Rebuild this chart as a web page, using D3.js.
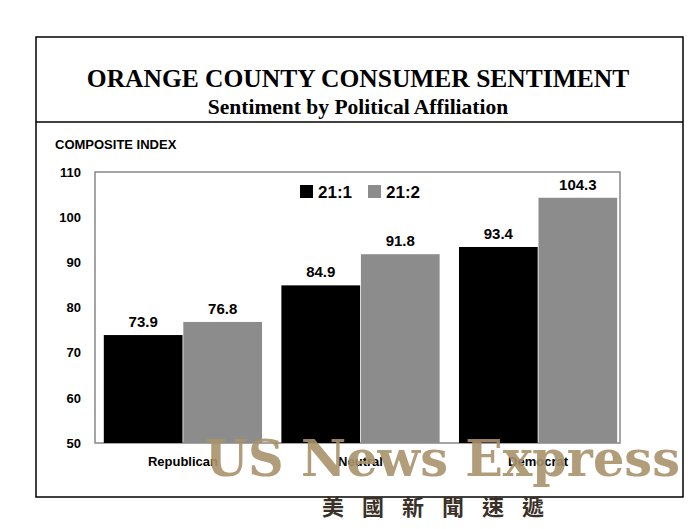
<!DOCTYPE html>
<html><head><meta charset="utf-8">
<script src="https://cdn.jsdelivr.net/npm/d3@7"></script>
<style>body{margin:0;background:#fff}</style>
</head><body>
<script>
var categories = ["Republican", "Neutral", "Democrat"];
var seriesNames = ["21:1", "21:2"];
var values211 = [73.9, 84.9, 93.4];
var values212 = [76.8, 91.8, 104.3];
var yTicks = [50, 60, 70, 80, 90, 100, 110];
var colors = ["#000000", "#8c8c8c"];

var svg = d3.select("body").append("svg").attr("width", 690).attr("height", 529);

// outer frame and title box
svg.append("rect").attr("x", 36).attr("y", 37).attr("width", 647).attr("height", 460)
  .attr("fill", "none").attr("stroke", "#000").attr("stroke-width", 1.5);
svg.append("line").attr("x1", 36).attr("x2", 683).attr("y1", 122).attr("y2", 122)
  .attr("stroke", "#000").attr("stroke-width", 1.5);
svg.append("text").attr("x", 358).attr("y", 87).attr("text-anchor", "middle")
  .attr("font-family", "Liberation Serif").attr("font-weight", "bold").attr("font-size", 25.5)
  .text("ORANGE COUNTY CONSUMER SENTIMENT");
svg.append("text").attr("x", 358).attr("y", 114).attr("text-anchor", "middle")
  .attr("font-family", "Liberation Serif").attr("font-weight", "bold").attr("font-size", 21.5)
  .text("Sentiment by Political Affiliation");
svg.append("text").attr("x", 55).attr("y", 149)
  .attr("font-family", "Liberation Sans").attr("font-weight", "bold").attr("font-size", 13)
  .text("COMPOSITE INDEX");

var pLeft = 95, pRight = 620, pTop = 172, pBottom = 443;
var x = d3.scaleBand().domain(categories).range([pLeft + 8, pRight - 2]).paddingInner(0.1).paddingOuter(0);
var x1 = d3.scaleBand().domain(seriesNames).range([0, x.bandwidth()]).padding(0.01);
var y = d3.scaleLinear().domain([50, 110]).range([pBottom, pTop]);

svg.append("rect").attr("x", pLeft).attr("y", pTop).attr("width", pRight - pLeft).attr("height", pBottom - pTop)
  .attr("fill", "#fff").attr("stroke", "#888").attr("stroke-width", 1.5);

var yAxis = svg.append("g").attr("transform", `translate(${pLeft},0)`)
  .call(d3.axisLeft(y).tickValues(yTicks).tickSize(0).tickPadding(14));
yAxis.select(".domain").remove();
yAxis.selectAll("text").attr("font-family", "Liberation Sans").attr("font-weight", "bold").attr("font-size", 13).attr("fill", "#000");

var series = [values211, values212];
series.forEach(function (vals, si) {
  var g = svg.append("g");
  g.selectAll("rect").data(categories).join("rect")
    .attr("x", function (c) { return x(c) + x1(seriesNames[si]); })
    .attr("width", x1.bandwidth())
    .attr("y", function (c, i) { return y(vals[i]); })
    .attr("height", function (c, i) { return pBottom - y(vals[i]); })
    .attr("fill", colors[si]);
  g.selectAll("text").data(categories).join("text")
    .attr("x", function (c) { return x(c) + x1(seriesNames[si]) + x1.bandwidth() / 2; })
    .attr("y", function (c, i) { return y(vals[i]) - 8; })
    .attr("text-anchor", "middle")
    .attr("font-family", "Liberation Sans").attr("font-weight", "bold").attr("font-size", 15)
    .text(function (c, i) { return vals[i].toFixed(1); });
});

var xAxis = svg.append("g").attr("transform", `translate(0,${pBottom})`)
  .call(d3.axisBottom(x).tickSize(0).tickPadding(14));
xAxis.select(".domain").remove();
xAxis.selectAll("text").attr("font-family", "Liberation Sans").attr("font-weight", "bold").attr("font-size", 13).attr("fill", "#000");

// legend
var legend = svg.append("g").attr("transform", "translate(300,185)");
seriesNames.forEach(function (s, i) {
  legend.append("rect").attr("x", i * 68).attr("y", 0).attr("width", 13).attr("height", 13).attr("fill", colors[i]);
  legend.append("text").attr("x", i * 68 + 18).attr("y", 13)
    .attr("font-family", "Liberation Sans").attr("font-weight", "bold").attr("font-size", 17).text(s);
});

// watermark
svg.append("text").attr("x", 205).attr("y", 476)
  .attr("font-family", "DejaVu Serif").attr("font-weight", "bold").attr("font-size", 50)
  .attr("fill", "#a8926a").attr("fill-opacity", 0.9).attr("textLength", 475).attr("lengthAdjust", "spacingAndGlyphs")
  .text("US News Express");
svg.append("text").attr("x", 442).attr("y", 515).attr("text-anchor", "middle")
  .attr("font-family", "Noto Sans CJK TC").attr("font-weight", "bold").attr("font-size", 22)
  .attr("fill", "#3a3028").attr("letter-spacing", 18)
  .text("美國新聞速遞");
</script>
</body></html>
